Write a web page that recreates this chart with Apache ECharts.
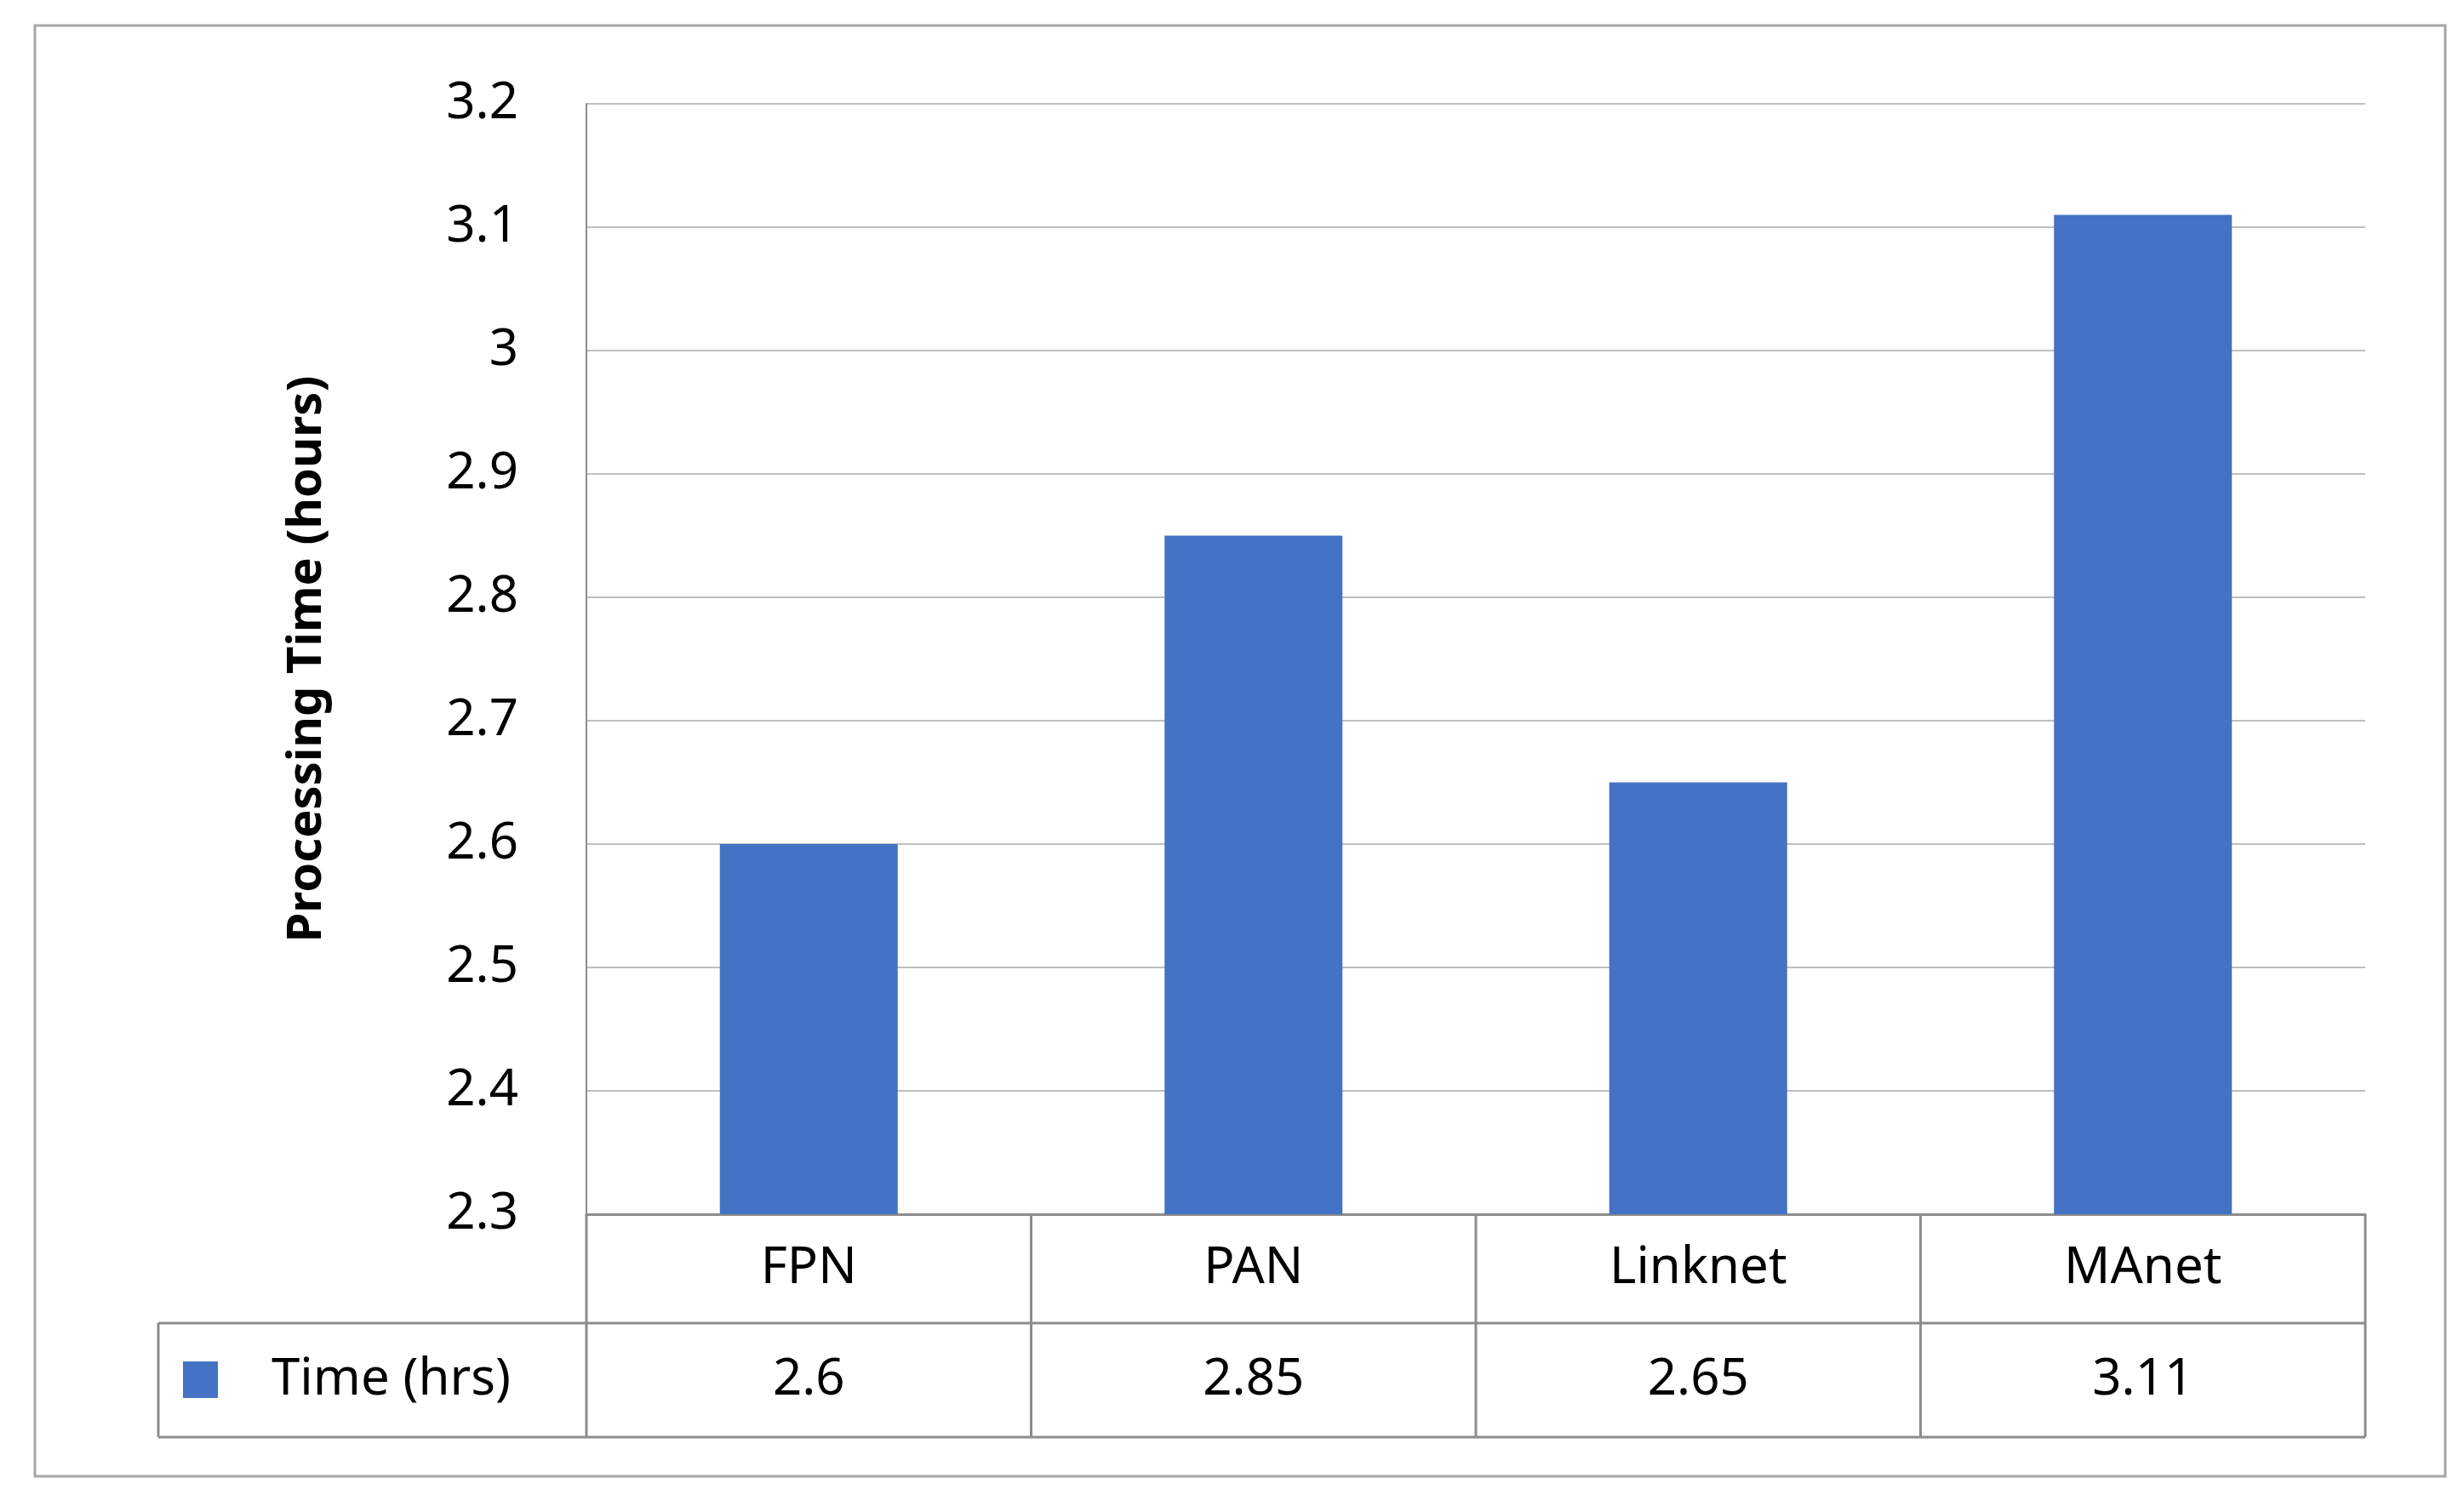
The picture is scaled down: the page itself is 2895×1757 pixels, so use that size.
<!DOCTYPE html>
<html>
<head>
<meta charset="utf-8">
<script src="https://cdn.jsdelivr.net/npm/echarts@6/dist/echarts.min.js"></script>
<style>html,body{margin:0;padding:0;background:#fff}#main{width:2895px;height:1757px}</style>
</head>
<body>
<div id="main"></div>
<script>
var categories = ['FPN', 'PAN', 'Linknet', 'MAnet'];
var timeHrs = [2.6, 2.85, 2.65, 3.11];
var seriesName = 'Time (hrs)';
var yTicks = {min: 2.3, max: 3.2, interval: 0.1};

var dom = document.getElementById('main');
var myChart = echarts.init(dom);
var font = 'Noto Sans';
var L = 689, R = 2779, T = 122, B = 1427;
var row1 = 1555, row2 = 1689, legL = 186;

option = {
    animation: false,
    grid: {left: L, right: 2895 - R, top: T, bottom: 1757 - B, containLabel: false},
    xAxis: {
        type: 'category',
        data: categories,
        axisLine: {lineStyle: {color: '#8c8c8c', width: 3}},
        axisTick: {show: false},
        axisLabel: {margin: 64, color: '#000', fontSize: 60, fontFamily: font, verticalAlign: 'middle'}
    },
    yAxis: {
        type: 'value',
        min: yTicks.min, max: yTicks.max, interval: yTicks.interval,
        name: 'Processing Time (hours)',
        nameLocation: 'middle',
        nameGap: 300,
        nameTextStyle: {fontSize: 56, fontWeight: 'bold', color: '#000', fontFamily: font},
        axisLine: {show: true, lineStyle: {color: '#8c8c8c', width: 2}},
        axisTick: {show: false},
        axisLabel: {margin: 80, color: '#000', fontSize: 60, fontFamily: font,
            formatter: function (v) { return String(Math.round(v * 100) / 100); }},
        splitLine: {lineStyle: {color: '#bfbfbf', width: 2}}
    },
    series: [{
        name: seriesName,
        type: 'bar',
        data: timeHrs,
        barWidth: '40%',
        itemStyle: {color: '#4472C4'}
    }]
};
myChart.setOption(option, true);

// data table below the plot
var g = [];
var lineStyle = {stroke: '#8c8c8c', lineWidth: 3};
g.push({type: 'rect', shape: {x: 41, y: 30, width: 2832, height: 1705}, style: {fill: 'none', stroke: '#a6a6a6', lineWidth: 3}, silent: true});
g.push({type: 'line', shape: {x1: legL, y1: row1, x2: R, y2: row1}, style: lineStyle});
g.push({type: 'line', shape: {x1: legL, y1: row2, x2: R, y2: row2}, style: lineStyle});
g.push({type: 'line', shape: {x1: legL, y1: row1, x2: legL, y2: row2}, style: lineStyle});
var step = (R - L) / categories.length;
for (var i = 0; i <= categories.length; i++) {
    var x = L + i * step;
    g.push({type: 'line', shape: {x1: x, y1: B, x2: x, y2: row2}, style: lineStyle});
}
for (var j = 0; j < timeHrs.length; j++) {
    var cx = myChart.convertToPixel({xAxisIndex: 0}, categories[j]);
    g.push({type: 'text', x: cx, y: (row1 + row2) / 2, style: {text: String(timeHrs[j]), fill: '#000',
        font: '60px "' + font + '"', align: 'center', verticalAlign: 'middle'}});
}
g.push({type: 'rect', shape: {x: 215, y: 1600, width: 41, height: 43}, style: {fill: '#4472C4'}});
g.push({type: 'text', x: 319, y: (row1 + row2) / 2, style: {text: seriesName, fill: '#000',
    font: '60px "' + font + '"', align: 'left', verticalAlign: 'middle'}});
myChart.setOption({graphic: g});
</script>
</body>
</html>
